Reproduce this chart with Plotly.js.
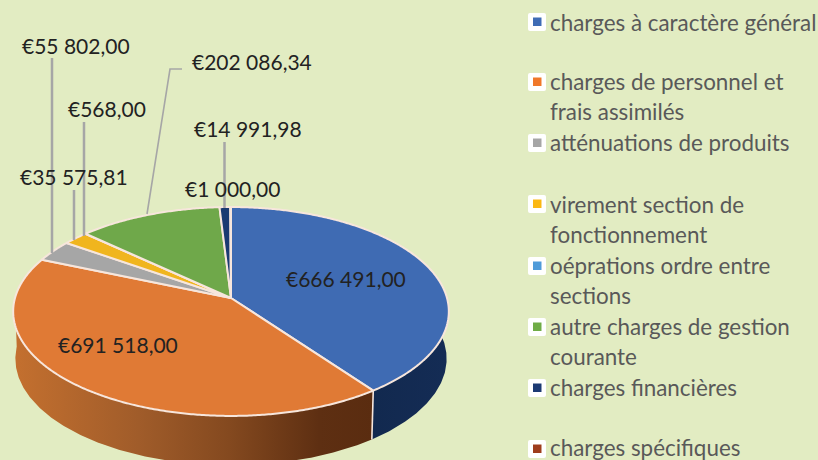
<!DOCTYPE html>
<html><head><meta charset="utf-8">
<script src="https://cdn.plot.ly/plotly-3.0.1.min.js"></script>
<style>html,body{margin:0;padding:0;background:#e2ecc2;overflow:hidden}</style>
</head><body><div id="chart" style="width:818px;height:460px"></div>
<script>
const categories = ["charges à caractère général","charges de personnel et frais assimilés","atténuations de produits","virement section de fonctionnement","oéprations ordre entre sections","autre charges de gestion courante","charges financières","charges spécifiques"];
const values = [666491.00,691518.00,55802.00,35575.81,568.00,202086.34,14991.98,1000.00];
const valueLabels = ["€666 491,00","€691 518,00","€55 802,00","€35 575,81","€568,00","€202 086,34","€14 991,98","€1 000,00"];
const colors = ["#3f6bb3","#e07a35","#a6a6a6","#f0b51e","#5b9bd5","#6fa84a","#1a3a72","#9e3d1c"];
const legendColors = ["#3f6cb5","#f0782a","#a6a6a6","#fbb813","#4f9bd9","#6fac46","#1c3a73","#9e3d1c"];
const legendLines = [["charges à caractère général"],["charges de personnel et","frais assimilés"],["atténuations de produits"],["virement section de","fonctionnement"],["oéprations ordre entre","sections"],["autre charges de gestion","courante"],["charges financières"],["charges spécifiques"]];
const legendY = [22,82,143,204,266,327,388,449];
const legendTextY = [22,81.5,142.5,204,265,326.5,387.5,447];
const labelPos = [[346,278],[118,344],[76,45.5],[74,176],[107,108],[252,61],[248,128],[232,188]];

// Pie projection (tilted disc with perspective), in pixel-sized axis units
const CX=231, CY=298, A=216, B=102.7, K=0.129, DEPTH=47;
function pt(deg, drop){
  const t=deg*Math.PI/180, u=Math.sin(t), v=Math.cos(t), w=1+K*v;
  const s=drop?0.99:1;
  return [CX+s*A*u/w, CY+(drop?DEPTH:0)-(drop?1.02:1)*B*v/w];
}
function arc(a0,a1,drop){
  const n=Math.max(2,Math.ceil(Math.abs(a1-a0)*2)), out=[];
  for(let i=0;i<=n;i++) out.push(pt(a0+(a1-a0)*i/n,drop));
  return out;
}
const total=values.reduce((a,b)=>a+b,0);
const angles=[0]; values.forEach(v=>angles.push(angles[angles.length-1]+v/total*360));

const EDGE="#f7e6dc";
const traces=[];
function wall(a0,a1,scale){
  const p=arc(a0,a1,false).concat(arc(a1,a0,true));
  p.push(p[0]);
  traces.push({type:"scatter",mode:"lines",x:p.map(q=>q[0]),y:p.map(q=>q[1]),fill:"toself",
    line:{width:0,color:"rgba(0,0,0,0)"},fillgradient:{type:"horizontal",colorscale:scale},hoverinfo:"skip",showlegend:false});
}
wall(angles[1],270,[[0,"#c4702f"],[0.35,"#a05c2a"],[0.6,"#84491f"],[0.85,"#5e2f12"],[1,"#5a2c10"]]);
wall(70,angles[1],[[0,"#12294f"],[1,"#142c55"]]);
// seam between the two visible walls
const s0=pt(angles[1],false), s1=pt(angles[1],true);
traces.push({type:"scatter",mode:"lines",x:[s0[0],s1[0]],y:[s0[1],s1[1]],line:{color:EDGE,width:1.6},hoverinfo:"skip",showlegend:false});
// top faces
values.forEach((v,i)=>{
  const p=[[CX,CY]].concat(arc(angles[i],angles[i+1],false)); p.push([CX,CY]);
  traces.push({type:"scatter",mode:"lines",name:categories[i],x:p.map(q=>q[0]),y:p.map(q=>q[1]),fill:"toself",fillcolor:colors[i],
    line:{color:EDGE,width:2,simplify:false},hoverinfo:"name",showlegend:false});
});

const annotations=[];
valueLabels.forEach((t,i)=>annotations.push({text:t,x:labelPos[i][0],y:labelPos[i][1],xref:"x",yref:"y",showarrow:false,xanchor:"center",yanchor:"middle",font:{family:"Lato",size:21,color:"#222222"}}));
legendLines.forEach((ls,i)=>ls.forEach((t,j)=>annotations.push({text:t,x:550,y:legendTextY[i]+j*30,xref:"x",yref:"y",showarrow:false,xanchor:"left",yanchor:"middle",xshift:-2,font:{family:"Lato",size:22.4,color:"#595959"}})));

const shapes=[];
const LEAD="#a6a6a6";
function lead(path,w){shapes.push({type:"path",xref:"x",yref:"y",path:path,line:{color:LEAD,width:w},layer:"above"});}
lead("M52,58 L52,253",2.5);
lead("M74,190 L74,240",2.5);
lead("M84,122 L84,236",2.5);
lead("M182,69 L170,69 L147,214",1.6);
lead("M224.5,142 L224.5,208",2.5);
legendY.forEach((y,i)=>{
  const l=528,r=546,t=y-9,b=y+9,c=2;
  shapes.push({type:"path",xref:"x",yref:"y",fillcolor:"#ffffff",line:{width:0},
    path:`M${l+c},${t} L${r-c},${t} Q${r},${t} ${r},${t+c} L${r},${b-c} Q${r},${b} ${r-c},${b} L${l+c},${b} Q${l},${b} ${l},${b-c} L${l},${t+c} Q${l},${t} ${l+c},${t} Z`});
  shapes.push({type:"rect",xref:"x",yref:"y",x0:533,x1:541.5,y0:y-4.5,y1:y+4,fillcolor:legendColors[i],line:{width:0}});
});

Plotly.newPlot("chart",traces,{
  width:818,height:460,margin:{l:0,r:0,t:0,b:0},
  paper_bgcolor:"#e2ecc2",plot_bgcolor:"#e2ecc2",showlegend:false,
  xaxis:{range:[0,818],visible:false,fixedrange:true},
  yaxis:{range:[460,0],visible:false,fixedrange:true},
  annotations,shapes
},{displayModeBar:false,staticPlot:true});
</script></body></html>
